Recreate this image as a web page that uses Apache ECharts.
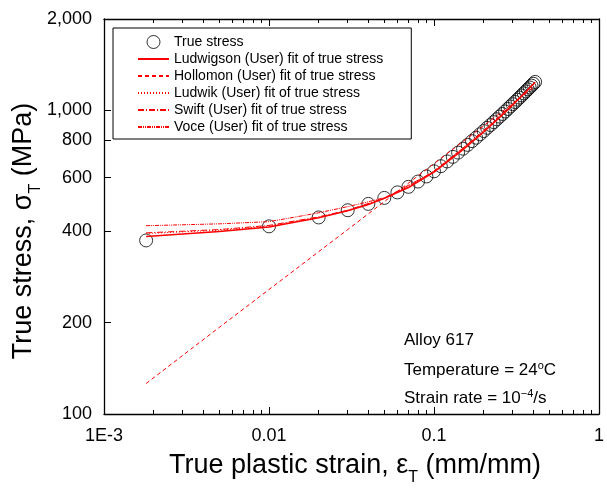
<!DOCTYPE html>
<html><head><meta charset="utf-8">
<script src="https://cdn.jsdelivr.net/npm/echarts@6/dist/echarts.min.js"></script>
<style>html,body{margin:0;padding:0;background:#fff}#c{width:607px;height:488px}</style>
</head><body><div id="c"></div>
<script>
const FONT = '"Liberation Sans", Arial, sans-serif';

// measured data (true stress)
const strain = [0.0018, 0.01, 0.02, 0.03, 0.04, 0.05, 0.06, 0.07, 0.08, 0.09, 0.10,
  0.11, 0.12, 0.13, 0.14, 0.15, 0.16, 0.17, 0.18, 0.19, 0.20,
  0.21, 0.22, 0.23, 0.24, 0.25, 0.26, 0.27, 0.28, 0.29, 0.30,
  0.31, 0.32, 0.33, 0.34, 0.35, 0.36, 0.37, 0.38, 0.39, 0.40, 0.41];
const trueStress = [373, 415, 444, 469, 492, 515, 537, 560, 583, 606, 630,
  655, 679, 703, 726, 748, 770, 792, 813, 834, 855,
  876, 895, 915, 935, 954, 973, 992, 1011, 1030, 1048,
  1066, 1084, 1102, 1120, 1138, 1155, 1173, 1190, 1207, 1224, 1241];

// fit curves
const ludwigsonStrain = [0.0018, 0.005, 0.01, 0.02, 0.03, 0.04, 0.05, 0.07, 0.1, 0.15, 0.2, 0.25, 0.3, 0.35, 0.41];
const ludwigsonStress = [384, 399, 413, 443, 467, 490, 513, 557, 626, 743, 849, 948, 1042, 1132, 1238];
const hollomonStrain = [0.0018, 0.005, 0.01, 0.03, 0.1, 0.2, 0.41];
const hollomonStress = [126, 193, 257, 405, 668, 890, 1201];
const ludwikStrain = [0.0018, 0.005, 0.01, 0.02, 0.03, 0.05, 0.1, 0.2, 0.3, 0.41];
const ludwikStress = [393, 403, 416, 444, 468, 513, 627, 851, 1044, 1240];
const swiftStrain = [0.0018, 0.005, 0.01, 0.02, 0.03, 0.05, 0.1, 0.2, 0.3, 0.41];
const swiftStress = [395, 405, 418, 446, 469, 514, 628, 852, 1045, 1239];
const voceStrain = [0.0018, 0.005, 0.01, 0.015, 0.02, 0.03, 0.04, 0.05, 0.07, 0.1, 0.15, 0.2, 0.3, 0.41];
const voceStress = [417, 423, 430, 447, 460, 482, 500, 516, 560, 632, 752, 860, 1050, 1238];

// ticks
const xTickValues = [0.001, 0.01, 0.1, 1];
const xTickLabels = ['1E-3', '0.01', '0.1', '1'];
const xMinorTickValues = [0.002, 0.003, 0.004, 0.005, 0.006, 0.007, 0.008, 0.009,
  0.02, 0.03, 0.04, 0.05, 0.06, 0.07, 0.08, 0.09,
  0.2, 0.3, 0.4, 0.5, 0.6, 0.7, 0.8, 0.9];
const yTickValues = [100, 200, 400, 600, 800, 1000, 2000];
const yTickLabels = ['100', '200', '400', '600', '800', '1,000', '2,000'];

const seriesNames = ['True stress', 'Ludwigson (User) fit of true stress', 'Hollomon (User) fit of true stress',
  'Ludwik (User) fit of true stress', 'Swift (User) fit of true stress', 'Voce (User) fit of true stress'];

function pairs(xs, ys) { return xs.map((x, i) => [x, ys[i]]); }
function nearestLabel(vals, labels, v) {
  let best = 0, bd = Infinity;
  vals.forEach((t, i) => { const d = Math.abs(Math.log10(t) - Math.log10(v)); if (d < bd) { bd = d; best = i; } });
  return labels[best];
}

const chart = echarts.init(document.getElementById('c'), null, { renderer: 'canvas' });
const axisLineStyle = { color: '#000', width: 1.3 };
const baseX = { type: 'log', logBase: 10, min: 0.001, max: 1, gridIndex: 0, splitLine: { show: false }, minorTick: { show: false } };
const noSymbol = { color: 'rgba(0,0,0,0)', borderColor: 'rgba(0,0,0,0)', borderWidth: 0 };

chart.setOption({
  animation: false,
  backgroundColor: '#fff',
  grid: { left: 104, right: 4, top: 19, bottom: 74, containLabel: false },
  xAxis: [
    Object.assign({}, baseX, {
      position: 'bottom',
      axisLine: { show: true, lineStyle: axisLineStyle },
      axisTick: { show: true, inside: true, length: 7, customValues: xTickValues, lineStyle: { color: '#000', width: 1 } },
      axisLabel: { show: true, customValues: xTickValues, margin: 13, fontSize: 18, fontFamily: FONT, color: '#000',
        formatter: v => nearestLabel(xTickValues, xTickLabels, v) }
    }),
    Object.assign({}, baseX, {
      position: 'bottom',
      axisLine: { show: false },
      axisTick: { show: true, inside: true, length: 4, customValues: xMinorTickValues, lineStyle: { color: '#000', width: 1 } },
      axisLabel: { show: false }
    }),
    Object.assign({}, baseX, {
      position: 'top',
      axisLine: { show: true, lineStyle: axisLineStyle },
      axisTick: { show: true, inside: true, length: 7, customValues: xTickValues, lineStyle: { color: '#000', width: 1 } },
      axisLabel: { show: false }
    }),
    Object.assign({}, baseX, {
      position: 'top',
      axisLine: { show: false },
      axisTick: { show: true, inside: true, length: 4, customValues: xMinorTickValues, lineStyle: { color: '#000', width: 1 } },
      axisLabel: { show: false }
    })
  ],
  yAxis: [
    {
      type: 'log', logBase: 10, min: 100, max: 2000, position: 'left',
      splitLine: { show: false }, minorTick: { show: false },
      axisLine: { show: true, lineStyle: axisLineStyle },
      axisTick: { show: true, inside: true, length: 7, customValues: yTickValues, lineStyle: { color: '#000', width: 1 } },
      axisLabel: { show: true, customValues: yTickValues, margin: 12, fontSize: 18, fontFamily: FONT, color: '#000',
        formatter: v => nearestLabel(yTickValues, yTickLabels, v) }
    },
    {
      type: 'log', logBase: 10, min: 100, max: 2000, position: 'right',
      splitLine: { show: false },
      axisLine: { show: true, lineStyle: axisLineStyle },
      axisTick: { show: false }, axisLabel: { show: false }
    }
  ],
  legend: {
    orient: 'vertical', left: 113, top: 28,
    padding: [7, 28, 5, 24],
    itemWidth: 31, itemHeight: 13, itemGap: 3,
    borderColor: '#000', borderWidth: 1,
    selectedMode: false,
    textStyle: { fontSize: 14, fontFamily: FONT, color: '#000' },
    data: [
      { name: seriesNames[0], icon: 'circle', itemStyle: { color: 'rgba(0,0,0,0)', borderColor: '#000', borderWidth: 1 } },
      { name: seriesNames[1], itemStyle: noSymbol },
      { name: seriesNames[2], itemStyle: noSymbol },
      { name: seriesNames[3], itemStyle: noSymbol },
      { name: seriesNames[4], itemStyle: noSymbol },
      { name: seriesNames[5], itemStyle: noSymbol }
    ]
  },
  series: [
    {
      type: 'scatter', name: seriesNames[0], data: pairs(strain, trueStress),
      symbol: 'circle', symbolSize: 13, z: 2,
      itemStyle: { color: 'rgba(0,0,0,0)', borderColor: '#000', borderWidth: 1 }
    },
    {
      type: 'line', name: seriesNames[1], data: pairs(ludwigsonStrain, ludwigsonStress), symbol: 'none', z: 3,
      lineStyle: { color: '#ff0000', width: 1.5, type: 'solid' }, itemStyle: { color: '#ff0000' }
    },
    {
      type: 'line', name: seriesNames[2], data: pairs(hollomonStrain, hollomonStress), symbol: 'none', z: 3,
      lineStyle: { color: '#ff0000', width: 1, type: [4, 3] }, itemStyle: { color: '#ff0000' }
    },
    {
      type: 'line', name: seriesNames[3], data: pairs(ludwikStrain, ludwikStress), symbol: 'none', z: 3,
      lineStyle: { color: '#ff0000', width: 1, type: [1, 2] }, itemStyle: { color: '#ff0000' }
    },
    {
      type: 'line', name: seriesNames[4], data: pairs(swiftStrain, swiftStress), symbol: 'none', z: 3,
      lineStyle: { color: '#ff0000', width: 1, type: [6, 2, 1, 2] }, itemStyle: { color: '#ff0000' }
    },
    {
      type: 'line', name: seriesNames[5], data: pairs(voceStrain, voceStress), symbol: 'none', z: 3,
      lineStyle: { color: '#ff0000', width: 1, type: [4, 1, 1, 1, 1, 1] }, itemStyle: { color: '#ff0000' }
    }
  ],
  graphic: [
    {
      type: 'text', x: 355, y: 468, z: 10,
      style: {
        text: '{m|True plastic strain, ε}{s|T}{m| (mm/mm)}',
        align: 'center', verticalAlign: 'middle',
        rich: {
          m: { fontSize: 27, lineHeight: 31, verticalAlign: 'top', fontFamily: FONT, fill: '#000' },
          s: { fontSize: 16, lineHeight: 16, padding: [20, 0, 0, 0], fontFamily: FONT, fill: '#000' }
        }
      }
    },
    {
      type: 'text', x: 25.5, y: 231, rotation: Math.PI / 2, z: 10,
      style: {
        text: '{m|True stress, σ}{s|T}{m| (MPa)}',
        align: 'center', verticalAlign: 'middle',
        rich: {
          m: { fontSize: 27, lineHeight: 31, verticalAlign: 'top', fontFamily: FONT, fill: '#000' },
          s: { fontSize: 16, lineHeight: 16, padding: [20, 0, 0, 0], fontFamily: FONT, fill: '#000' }
        }
      }
    },
    {
      type: 'text', x: 404, y: 340, z: 10,
      style: { text: 'Alloy 617', fontSize: 17, fontFamily: FONT, fill: '#000', align: 'left', verticalAlign: 'middle' }
    },
    {
      type: 'text', x: 404, y: 370, z: 10,
      style: {
        text: '{m|Temperature = 24}{s|o}{m|C}', align: 'left', verticalAlign: 'middle',
        rich: {
          m: { fontSize: 17, lineHeight: 20, fontFamily: FONT, fill: '#000' },
          s: { fontSize: 11, lineHeight: 11, verticalAlign: 'top', fontFamily: FONT, fill: '#000' }
        }
      }
    },
    {
      type: 'text', x: 404, y: 398, z: 10,
      style: {
        text: '{m|Strain rate = 10}{s|−4}{m|/s}', align: 'left', verticalAlign: 'middle',
        rich: {
          m: { fontSize: 17, lineHeight: 20, fontFamily: FONT, fill: '#000' },
          s: { fontSize: 11, lineHeight: 11, verticalAlign: 'top', fontFamily: FONT, fill: '#000' }
        }
      }
    }
  ]
});
</script>
</body></html>
